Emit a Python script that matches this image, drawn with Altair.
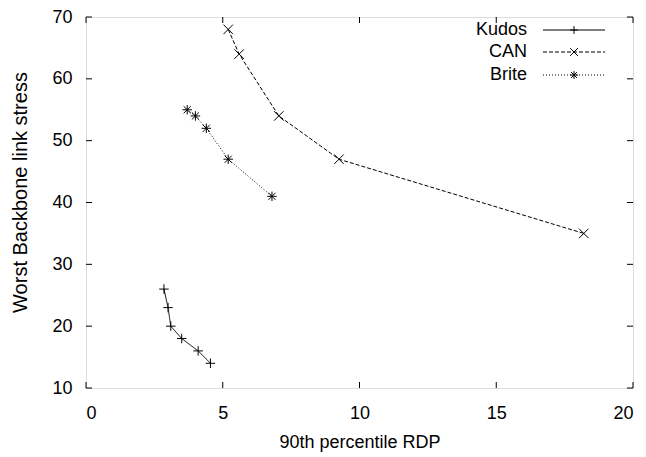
import altair as alt
import pandas as pd

# ---- data ----
kudos_x = [2.85, 3.0, 3.1, 3.5, 4.1, 4.55]
kudos_y = [26, 23, 20, 18, 16, 14]
can_x = [5.2, 5.6, 7.05, 9.25, 18.2]
can_y = [68, 64, 54, 47, 35]
brite_x = [3.7, 4.0, 4.4, 5.2, 6.8]
brite_y = [55, 54, 52, 47, 41]
series = ["Kudos", "CAN", "Brite"]
x_ticks = [0, 5, 10, 15, 20]
y_ticks = [10, 20, 30, 40, 50, 60, 70]

rows = []
for name, xs, ys in [("Kudos", kudos_x, kudos_y), ("CAN", can_x, can_y), ("Brite", brite_x, brite_y)]:
    for i, (a, b) in enumerate(zip(xs, ys)):
        rows.append({"series": name, "rdp": a, "stress": b, "order": i})
df = pd.DataFrame(rows)

W, H = 547, 371
FONT = "Liberation Sans"
FS = 18

PLUS = "M-1,0L1,0M0,-1L0,1"
CROSS = "M-1,-1L1,1M-1,1L1,-1"
STAR = "M-1,0L1,0M0,-1L0,1M-0.75,-0.75L0.75,0.75M-0.75,0.75L0.75,-0.75"
shapes = [PLUS, CROSS, STAR]
dashes = [[1, 0], [4, 2], [1, 2]]

xs = alt.Scale(domain=[0, 20], nice=False, zero=False)
ys = alt.Scale(domain=[10, 70], nice=False, zero=False)

x_enc = alt.X("rdp:Q", scale=xs,
              axis=alt.Axis(title="90th percentile RDP", values=x_ticks, ticks=False, domain=False,
                            grid=False, labelPadding=16, titlePadding=11, labelFont=FONT,
                            titleFont=FONT, labelFontSize=FS, titleFontSize=FS,
                            titleFontWeight="normal", labelColor="black", titleColor="black"))
y_enc = alt.Y("stress:Q", scale=ys,
              axis=alt.Axis(title="Worst Backbone link stress", values=y_ticks, ticks=False,
                            domain=False, grid=False, labelPadding=14, titleX=-66, titleY=175,
                            titleAngle=270, titleBaseline="middle", titleAlign="center",
                            labelFont=FONT, titleFont=FONT, labelFontSize=FS, titleFontSize=20,
                            titleFontWeight="normal", labelColor="black", titleColor="black"))

base = alt.Chart(df)
lines = base.mark_line(color="black", strokeWidth=1).encode(
    x=x_enc, y=y_enc, detail="series:N", order="order:Q",
    strokeDash=alt.StrokeDash("series:N", scale=alt.Scale(domain=series, range=dashes), legend=None),
)
points = base.mark_point(filled=False, color="black", strokeWidth=1, size=90, opacity=1).encode(
    x=alt.X("rdp:Q", scale=xs), y=alt.Y("stress:Q", scale=ys),
    shape=alt.Shape("series:N", scale=alt.Scale(domain=series, range=shapes), legend=None),
)

xt = pd.DataFrame({"t": x_ticks})
yt = pd.DataFrame({"t": y_ticks})
tick_layers = [
    alt.Chart(xt).mark_rule(color="black").encode(x=alt.X("t:Q", scale=xs), y=alt.value(H), y2=alt.value(H - 6)),
    alt.Chart(xt).mark_rule(color="black").encode(x=alt.X("t:Q", scale=xs), y=alt.value(0), y2=alt.value(6)),
    alt.Chart(yt).mark_rule(color="black").encode(y=alt.Y("t:Q", scale=ys), x=alt.value(0), x2=alt.value(6)),
    alt.Chart(yt).mark_rule(color="black").encode(y=alt.Y("t:Q", scale=ys), x=alt.value(W), x2=alt.value(W - 6)),
]

# ---- manual gnuplot-style key ----
leg_df = pd.DataFrame({"series": series})
key_layers = []
row_y = [13, 35, 58]
for i, name in enumerate(series):
    d = leg_df[leg_df.series == name]
    key_layers.append(alt.Chart(d).mark_text(align="right", baseline="middle", font=FONT, fontSize=FS,
                                             color="black").encode(
        text="series:N", x=alt.value(441), y=alt.value(row_y[i])))
    key_layers.append(alt.Chart(d).mark_rule(color="black", strokeWidth=1, strokeDash=dashes[i]).encode(
        x=alt.value(457), x2=alt.value(519), y=alt.value(row_y[i])))
    key_layers.append(alt.Chart(d).mark_point(filled=False, color="black", strokeWidth=1, size=60,
                                              shape=shapes[i], opacity=1).encode(
        x=alt.value(488), y=alt.value(row_y[i])))

chart = alt.layer(lines, points, *tick_layers, *key_layers).properties(
    width=W, height=H,
    autosize=alt.AutoSizeParams(type="none"),
    padding={"left": 78, "top": 9, "right": 5, "bottom": 68},
).configure_view(stroke="black", strokeWidth=1).configure(background="white")

chart.save("out.html", embed_options={"renderer": "svg", "actions": False})
